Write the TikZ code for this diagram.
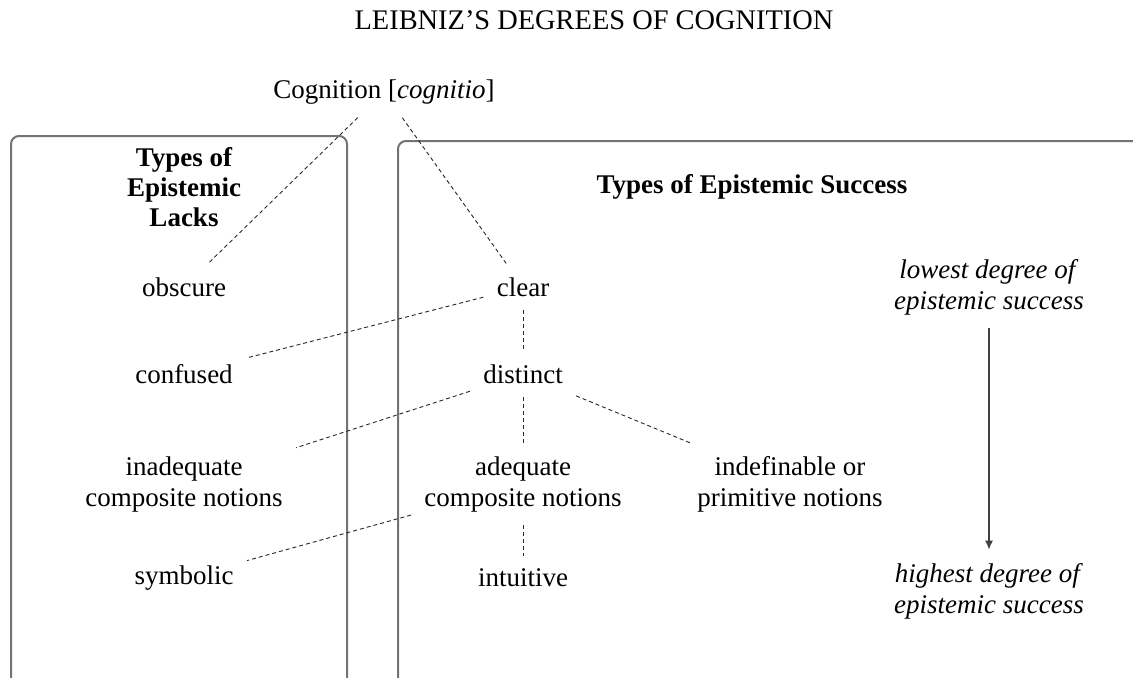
\documentclass[tikz,border=0pt]{standalone}
\usepackage{fontspec}
\setmainfont{Liberation Serif}
\usetikzlibrary{arrows.meta}
\definecolor{framegray}{rgb}{0.45,0.45,0.45}

\begin{document}
\begin{tikzpicture}[x=0.5pt,y=0.5pt,yscale=-1,
		lbl/.style={inner sep=6.5pt, align=center, font=\fontsize{13.5}{15.5}\selectfont},
		head/.style={lbl, font=\fontsize{13.5}{15}\selectfont\bfseries},
		link/.style={dash pattern=on 2pt off 1.5pt, line width=0.45pt, black!85},
		frame/.style={framegray, line width=1pt, rounded corners=4pt}]
		\useasboundingbox (0,0) rectangle (1133,677);

		% Title
		\node[lbl, font=\fontsize{14.2}{16}\selectfont] (title) at (594,20) {LEIBNIZ'S DEGREES OF COGNITION};

		% The two frames (open at the bottom and on the right)
		\draw[frame] (11,690) -- (11,136) -- (347,136) -- (347,690);
		\draw[frame] (398,690) -- (398,141) -- (1150,141);

		% Frame headings
		\node[head] (lacks) at (184,187) {Types of\\Epistemic\\Lacks};
		\node[head] (success) at (752,187) {Types of Epistemic Success};

		% Root
		\node[lbl] (cog) at (384,92) {Cognition [\textit{cognitio}]};

		% Left column
		\node[lbl] (obscure) at (184,287) {obscure};
		\node[lbl] (confused) at (184,374) {confused};
		\node[lbl] (inadequate) at (184,484) {inadequate\\composite notions};
		\node[lbl] (symbolic) at (184,578) {symbolic};

		% Middle column
		\node[lbl] (clear) at (523,287) {clear};
		\node[lbl] (distinct) at (523,374) {distinct};
		\node[lbl] (adequate) at (523,484) {adequate\\composite notions};
		\node[lbl] (intuitive) at (523,578) {intuitive};
		\node[lbl] (primitive) at (790,484) {indefinable or\\primitive notions};

		% Scale on the right
		\node[lbl] (lowest) at (989,287) {\textit{lowest degree of}\\\textit{epistemic success}};
		\node[lbl] (highest) at (989,591) {\textit{highest degree of}\\\textit{epistemic success}};
		\draw[line width=0.8pt, -{Latex[length=4.5pt,width=4pt]}, black!75] (lowest) -- (highest);

		% Dashed links
		\draw[link] (cog) -- (obscure);
		\draw[link] (cog) -- (clear);
		\draw[link] (clear) -- (confused);
		\draw[link] (clear) -- (distinct);
		\draw[link] (distinct) -- (inadequate);
		\draw[link] (distinct) -- (adequate);
		\draw[link] (distinct) -- (primitive);
		\draw[link] (adequate) -- (symbolic);
		\draw[link] (adequate) -- (intuitive);
	\end{tikzpicture}
\end{document}
